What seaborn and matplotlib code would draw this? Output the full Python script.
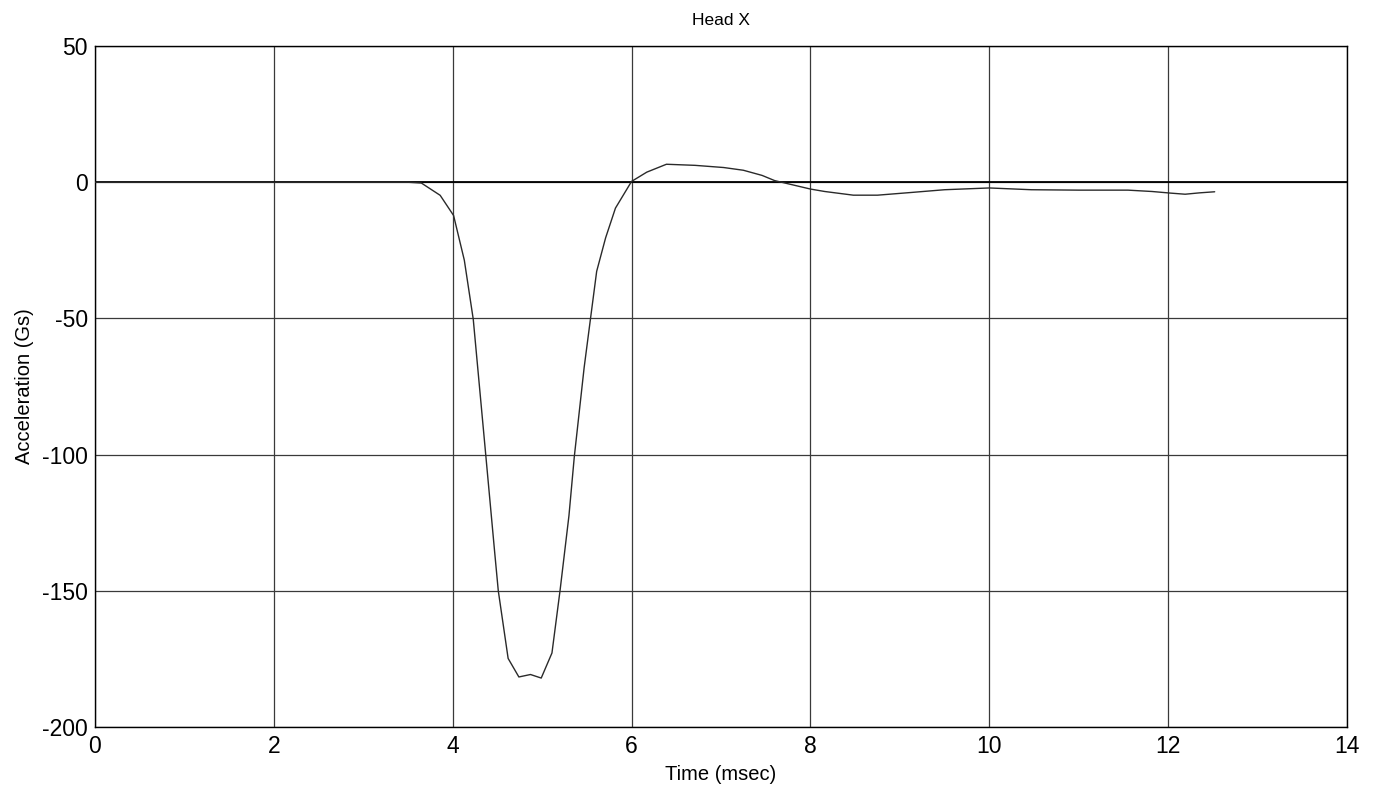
import numpy as np
import pandas as pd
import matplotlib
matplotlib.use("Agg")
import matplotlib.pyplot as plt
import seaborn as sns

# values
time_ms = [0.0, 1.0, 2.0, 3.0, 3.5, 3.65, 3.86, 4.01, 4.13, 4.23, 4.36, 4.47, 4.51, 4.62,
           4.74, 4.87, 4.99, 5.11, 5.20, 5.30, 5.36, 5.47, 5.54, 5.61, 5.71, 5.82,
           6.0, 6.17, 6.39, 6.71, 7.03, 7.25, 7.46, 7.6, 8.0, 8.16, 8.48, 8.75,
           9.13, 9.5, 10.0, 10.47, 11.0, 11.55, 11.82, 12.03, 12.19, 12.35, 12.52]
accel_g = [0.0, 0.0, 0.0, 0.0, 0.0, -0.3, -4.8, -12.2, -28.6, -50.3, -96.6, -136.0, -150.0, -174.8,
           -181.6, -180.7, -182.0, -172.8, -150.0, -122.4, -100.7, -68.0, -50.3, -32.7, -20.4, -9.5,
           0.3, 3.7, 6.6, 6.2, 5.4, 4.4, 2.5, 0.6, -2.5, -3.4, -4.75, -4.75,
           -3.75, -2.75, -2.1, -2.75, -2.9, -2.9, -3.4, -4.0, -4.4, -3.9, -3.5]

x_ticks = [0, 2, 4, 6, 8, 10, 12, 14]
y_ticks = [50, 0, -50, -100, -150, -200]

df = pd.DataFrame({"Time (msec)": time_ms, "Acceleration (Gs)": accel_g})

sns.set_style("white")
plt.rcParams['font.family'] = ['Liberation Sans', 'DejaVu Sans']
plt.rcParams['axes.unicode_minus'] = False
plt.rcParams['text.color'] = 'black'
plt.rcParams['axes.labelcolor'] = 'black'

fig = plt.figure(figsize=(13.82, 7.99), dpi=100)
ax = fig.add_axes([0.0687, 0.090, 0.906, 0.8524])

sns.lineplot(data=df, x="Time (msec)", y="Acceleration (Gs)", ax=ax,
             color="#2a2a2a", linewidth=1.0, zorder=3)

ax.set_xlim(0, 14)
ax.set_ylim(-200, 50)
ax.set_xticks(x_ticks)
ax.set_yticks(y_ticks)
ax.grid(True, color="#3a3a3a", linewidth=0.9, linestyle="-")
ax.axhline(0, color="black", linewidth=1.3, zorder=2)
for s in ax.spines.values():
    s.set_color("black")
    s.set_linewidth(1.0)

ax.tick_params(axis="both", length=0, labelsize=16.5, colors="black")
ax.tick_params(axis="x", pad=6)
ax.tick_params(axis="y", pad=5)
ax.set_xlabel("Time (msec)", fontsize=14.5, labelpad=5)
ax.set_ylabel("Acceleration (Gs)", fontsize=14.5, labelpad=6)
ax.set_title("Head X", fontsize=12.5, pad=15, color="black")

fig.savefig("out.png", dpi=100)
